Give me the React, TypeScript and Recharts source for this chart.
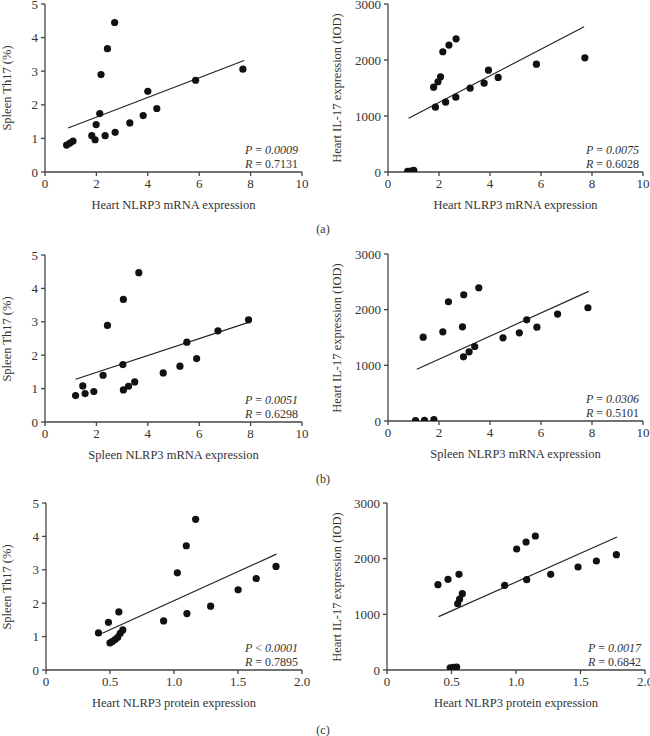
import React from 'react';
import { ScatterChart, Scatter, XAxis, YAxis, ReferenceLine } from 'recharts';

type Pt = { x: number; y: number };

// (a) heart NLRP3 mRNA vs spleen Th17
const heartMrnaTh17: Pt[] = [
  { x: 2.71, y: 4.45 }, { x: 2.43, y: 3.67 }, { x: 2.18, y: 2.9 }, { x: 7.7, y: 3.06 },
  { x: 5.86, y: 2.73 }, { x: 4.0, y: 2.4 }, { x: 2.13, y: 1.74 }, { x: 4.35, y: 1.89 },
  { x: 3.82, y: 1.68 }, { x: 3.3, y: 1.46 }, { x: 1.99, y: 1.41 }, { x: 1.82, y: 1.08 },
  { x: 1.95, y: 0.96 }, { x: 2.34, y: 1.08 }, { x: 2.73, y: 1.18 }, { x: 1.09, y: 0.92 },
  { x: 0.97, y: 0.86 }, { x: 0.84, y: 0.8 },
];
const heartMrnaTh17Fit: Pt[] = [{ x: 0.9, y: 1.31 }, { x: 7.75, y: 3.32 }];

// (a) heart NLRP3 mRNA vs heart IL-17
const heartMrnaIl17: Pt[] = [
  { x: 2.67, y: 2379 }, { x: 2.39, y: 2266 }, { x: 2.15, y: 2147 }, { x: 7.72, y: 2039 },
  { x: 5.82, y: 1926 }, { x: 3.94, y: 1819 }, { x: 2.06, y: 1700 }, { x: 4.32, y: 1688 },
  { x: 1.96, y: 1610 }, { x: 1.79, y: 1515 }, { x: 3.77, y: 1586 }, { x: 3.22, y: 1497 },
  { x: 2.66, y: 1336 }, { x: 2.26, y: 1246 }, { x: 1.86, y: 1157 },
  { x: 0.77, y: 10 }, { x: 0.89, y: 18 }, { x: 1.01, y: 28 },
];
const heartMrnaIl17Fit: Pt[] = [{ x: 0.81, y: 960 }, { x: 7.69, y: 2594 }];

// (b) spleen NLRP3 mRNA vs spleen Th17
const spleenMrnaTh17: Pt[] = [
  { x: 3.65, y: 4.47 }, { x: 3.05, y: 3.67 }, { x: 2.43, y: 2.89 }, { x: 7.92, y: 3.06 },
  { x: 6.73, y: 2.73 }, { x: 5.52, y: 2.39 }, { x: 5.9, y: 1.9 }, { x: 3.03, y: 1.72 },
  { x: 5.25, y: 1.67 }, { x: 4.6, y: 1.47 }, { x: 2.26, y: 1.4 }, { x: 1.47, y: 1.08 },
  { x: 3.49, y: 1.2 }, { x: 3.25, y: 1.07 }, { x: 3.05, y: 0.96 }, { x: 1.9, y: 0.91 },
  { x: 1.56, y: 0.85 }, { x: 1.19, y: 0.79 },
];
const spleenMrnaTh17Fit: Pt[] = [{ x: 1.19, y: 1.28 }, { x: 7.95, y: 2.99 }];

// (b) spleen NLRP3 mRNA vs heart IL-17
const spleenMrnaIl17: Pt[] = [
  { x: 3.56, y: 2394 }, { x: 2.97, y: 2268 }, { x: 2.37, y: 2142 }, { x: 7.84, y: 2034 },
  { x: 6.65, y: 1920 }, { x: 5.44, y: 1818 }, { x: 2.92, y: 1692 }, { x: 5.84, y: 1686 },
  { x: 2.15, y: 1602 }, { x: 5.15, y: 1584 }, { x: 1.38, y: 1506 }, { x: 4.51, y: 1494 },
  { x: 3.4, y: 1338 }, { x: 3.18, y: 1242 }, { x: 2.96, y: 1152 },
  { x: 1.08, y: 6 }, { x: 1.43, y: 12 }, { x: 1.8, y: 24 },
];
const spleenMrnaIl17Fit: Pt[] = [{ x: 1.13, y: 930 }, { x: 7.87, y: 2328 }];

// (c) heart NLRP3 protein vs spleen Th17
const heartProtTh17: Pt[] = [
  { x: 1.169, y: 4.51 }, { x: 1.096, y: 3.72 }, { x: 1.026, y: 2.91 }, { x: 1.797, y: 3.1 },
  { x: 1.642, y: 2.74 }, { x: 1.501, y: 2.4 }, { x: 1.286, y: 1.91 }, { x: 1.101, y: 1.69 },
  { x: 0.919, y: 1.47 }, { x: 0.569, y: 1.74 }, { x: 0.488, y: 1.43 }, { x: 0.41, y: 1.11 },
  { x: 0.5, y: 0.81 }, { x: 0.52, y: 0.86 }, { x: 0.54, y: 0.91 }, { x: 0.56, y: 0.98 },
  { x: 0.58, y: 1.1 }, { x: 0.6, y: 1.2 },
];
const heartProtTh17Fit: Pt[] = [{ x: 0.44, y: 1.1 }, { x: 1.8, y: 3.47 }];

// (c) heart NLRP3 protein vs heart IL-17
const heartProtIl17: Pt[] = [
  { x: 1.15, y: 2407 }, { x: 1.078, y: 2299 }, { x: 1.005, y: 2174 }, { x: 1.778, y: 2072 },
  { x: 1.623, y: 1958 }, { x: 1.481, y: 1850 }, { x: 1.269, y: 1719 }, { x: 1.083, y: 1623 },
  { x: 0.912, y: 1521 }, { x: 0.558, y: 1719 }, { x: 0.473, y: 1629 }, { x: 0.395, y: 1533 },
  { x: 0.548, y: 1192 }, { x: 0.563, y: 1275 }, { x: 0.584, y: 1371 },
  { x: 0.49, y: 40 }, { x: 0.515, y: 48 }, { x: 0.54, y: 54 },
];
const heartProtIl17Fit: Pt[] = [{ x: 0.4, y: 958 }, { x: 1.783, y: 2389 }];

const mrnaTicks = [0, 2, 4, 6, 8, 10];
const protTicks = [0, 0.5, 1.0, 1.5, 2.0];
const th17Ticks = [0, 1, 2, 3, 4, 5];
const il17Ticks = [0, 1000, 2000, 3000];

const FONT = '"Liberation Serif", "DejaVu Serif", serif';
const INK = '#333';
const AXIS = '#444';

const Dot = (props: any) => <circle cx={props.cx} cy={props.cy} r={3.6} fill="#111" />;

type PanelProps = {
  left: number; top: number; w: number; h: number;
  data: Pt[]; fit: Pt[];
  xTicks: number[]; yTicks: number[];
  xTitle: string; yTitle: string;
  pOp: string; pVal: string; rText: string;
  yTitleX: number;
  fmtX?: (v: number) => string;
};

const Panel = ({ left, top, w, h, data, fit, xTicks, yTicks, xTitle, yTitle, pOp, pVal, rText, yTitleX, fmtX }: PanelProps) => {
  const yw = 60;
  const mt = 8;
  const mr = 14;
  const tick = { fontFamily: FONT, fontSize: 13, fill: INK };
  return (
    <>
      <div style={{ position: 'absolute', left: left - yw, top: top - mt }}>
        <ScatterChart width={yw + w + mr} height={mt + h + 30} margin={{ top: mt, right: mr, bottom: 0, left: 0 }}>
          <XAxis
            type="number" dataKey="x" domain={[xTicks[0], xTicks[xTicks.length - 1]]} ticks={xTicks}
            tickFormatter={fmtX} tick={tick} tickSize={4} tickMargin={3} height={30}
            axisLine={{ stroke: AXIS, strokeWidth: 1.3 }} tickLine={{ stroke: AXIS, strokeWidth: 1.3 }}
            allowDataOverflow
          />
          <YAxis
            type="number" dataKey="y" domain={[yTicks[0], yTicks[yTicks.length - 1]]} ticks={yTicks}
            tick={tick} tickSize={4} tickMargin={3} width={yw}
            axisLine={{ stroke: AXIS, strokeWidth: 1.3 }} tickLine={{ stroke: AXIS, strokeWidth: 1.3 }}
            allowDataOverflow
          />
          <ReferenceLine segment={fit} stroke="#222" strokeWidth={1.2} ifOverflow="visible" />
          <Scatter data={data} shape={Dot} isAnimationActive={false} />
        </ScatterChart>
      </div>
      <div style={{ position: 'absolute', left, top: top + h + 26, width: w, textAlign: 'center', fontFamily: FONT, fontSize: 12.5, color: INK }}>
        {xTitle}
      </div>
      <div style={{
        position: 'absolute', left: yTitleX - 100, top: top + h / 2 - 8, width: 200, height: 16, lineHeight: '16px',
        textAlign: 'center', transform: 'rotate(-90deg)', fontFamily: FONT, fontSize: 12.5, color: INK, whiteSpace: 'nowrap',
      }}>
        {yTitle}
      </div>
      <div style={{ position: 'absolute', left: left, top: top + h - 29, width: w - 4, textAlign: 'right', fontFamily: FONT, fontSize: 12, color: INK, lineHeight: '14px' }}>
        <div><i>P</i> {pOp} <i>{pVal}</i></div>
        <div><i>R</i> {rText}</div>
      </div>
    </>
  );
};

const fmtProt = (v: number) => (v === 0 ? '0' : v.toFixed(1));

const PanelTag = ({ top, label }: { top: number; label: string }) => (
  <div style={{ position: 'absolute', left: 300, width: 46, top: top - 8, textAlign: 'center', fontFamily: FONT, fontSize: 12, color: INK }}>
    {label}
  </div>
);

export default function App() {
  return (
    <div style={{ position: 'absolute', left: 0, top: 0, width: 650, height: 736, background: '#fff', overflow: 'hidden' }}>
      <Panel left={45} top={4} w={257} h={168} data={heartMrnaTh17} fit={heartMrnaTh17Fit}
        xTicks={mrnaTicks} yTicks={th17Ticks} xTitle="Heart NLRP3 mRNA expression" yTitle="Spleen Th17 (%)"
        pOp="=" pVal="0.0009" rText="= 0.7131" yTitleX={7} />
      <Panel left={388} top={4} w={255} h={168} data={heartMrnaIl17} fit={heartMrnaIl17Fit}
        xTicks={mrnaTicks} yTicks={il17Ticks} xTitle="Heart NLRP3 mRNA expression" yTitle="Heart IL-17 expression (IOD)"
        pOp="=" pVal="0.0075" rText="= 0.6028" yTitleX={337} />
      <PanelTag top={230} label="(a)" />

      <Panel left={45} top={255} w={257} h={167} data={spleenMrnaTh17} fit={spleenMrnaTh17Fit}
        xTicks={mrnaTicks} yTicks={th17Ticks} xTitle="Spleen NLRP3 mRNA expression" yTitle="Spleen Th17 (%)"
        pOp="=" pVal="0.0051" rText="= 0.6298" yTitleX={7} />
      <Panel left={388} top={254} w={255} h={167} data={spleenMrnaIl17} fit={spleenMrnaIl17Fit}
        xTicks={mrnaTicks} yTicks={il17Ticks} xTitle="Spleen NLRP3 mRNA expression" yTitle="Heart IL-17 expression (IOD)"
        pOp="=" pVal="0.0306" rText="= 0.5101" yTitleX={337} />
      <PanelTag top={480} label="(b)" />

      <Panel left={46} top={503} w={256} h={167} data={heartProtTh17} fit={heartProtTh17Fit}
        xTicks={protTicks} yTicks={th17Ticks} xTitle="Heart NLRP3 protein expression" yTitle="Spleen Th17 (%)"
        pOp="<" pVal="0.0001" rText="= 0.7895" yTitleX={7} fmtX={fmtProt} />
      <Panel left={387} top={503} w={258} h={167} data={heartProtIl17} fit={heartProtIl17Fit}
        xTicks={protTicks} yTicks={il17Ticks} xTitle="Heart NLRP3 protein expression" yTitle="Heart IL-17 expression (IOD)"
        pOp="=" pVal="0.0017" rText="= 0.6842" yTitleX={337} fmtX={fmtProt} />
      <PanelTag top={731} label="(c)" />
    </div>
  );
}
